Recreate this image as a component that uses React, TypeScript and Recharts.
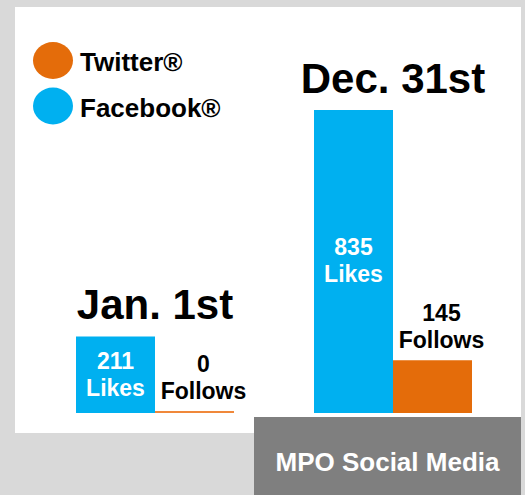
import React from 'react';
import { BarChart, Bar, XAxis, YAxis, LabelList, Legend, Cell } from 'recharts';

const dates = ['Jan. 1st', 'Dec. 31st'];
const facebookLikes = [211, 835];
const twitterFollows = [0, 145];
const seriesNames = { facebook: 'Facebook®', twitter: 'Twitter®' };
const unitLabels = { facebook: 'Likes', twitter: 'Follows' };

const BLUE = '#00b0f0';
const ORANGE = '#e46c0a';
const FONT = '"Liberation Sans", Arial, sans-serif';

const data = dates.map((d, i) => ({ date: d, facebook: facebookLikes[i], twitter: twitterFollows[i] }));

const LikesLabel = (props: any) => {
  const { x, y, width, height, value } = props;
  const cx = Number(x) + Number(width) / 2;
  const cy = Number(y) + Number(height) / 2;
  return (
    <text x={cx} textAnchor="middle" fill="#ffffff" fontFamily={FONT} fontWeight="bold" fontSize={23}>
      <tspan x={cx} y={cy - 6}>{value}</tspan>
      <tspan x={cx} y={cy + 21}>{unitLabels.facebook}</tspan>
    </text>
  );
};

const FollowsLabel = (props: any) => {
  const { x, y, width, value } = props;
  const cx = Number(x) + Number(width) / 2 + 9;
  const base = Number(y) - 12;
  return (
    <text x={cx} textAnchor="middle" fill="#000000" fontFamily={FONT} fontWeight="bold" fontSize={23}>
      <tspan x={cx} y={base - 27}>{value}</tspan>
      <tspan x={cx} y={base}>{unitLabels.twitter}</tspan>
    </text>
  );
};

const DateLabel = (props: any) => {
  const { x, y, width, value } = props;
  const cx = Number(x) + Number(width);
  return (
    <text x={cx} y={Number(y) - 17} textAnchor="middle" fill="#000000" fontFamily={FONT} fontWeight="bold" fontSize={42}>
      {value}
    </text>
  );
};

const LegendContent = (props: any) => {
  const payload = [...(props.payload || [])].reverse();
  return (
    <svg width={240} height={130} style={{ display: 'block', position: 'absolute', left: 0, top: 0 }}>
      {payload.map((p: any, i: number) => (
        <g key={i}>
          <ellipse cx={53} cy={60.5 + i * 45.5} rx={20} ry={18.5} fill={p.color} />
          <text x={80} y={70.5 + i * 46.5} fill="#000000" fontFamily={FONT} fontWeight="bold" fontSize={26}>
            {p.value}
          </text>
        </g>
      ))}
    </svg>
  );
};

export default function App() {
  return (
    <div style={{ position: 'absolute', left: 0, top: 0, width: 525, height: 495, background: '#d9d9d9', overflow: 'hidden', fontFamily: FONT }}>
      <div style={{ position: 'absolute', left: 15, top: 7, width: 506, height: 426, background: '#ffffff' }} />
      <div style={{ position: 'absolute', left: 0, top: 0 }}>
        <BarChart
          width={525}
          height={495}
          data={data}
          margin={{ top: 50, right: 13, bottom: 82, left: 36 }}
          barCategoryGap={40}
          barGap={0}
        >
          <XAxis dataKey="date" hide />
          <YAxis hide domain={[0, 1000]} />
          <Legend
            content={<LegendContent />}
            wrapperStyle={{ left: 0, top: 0, width: 0, height: 0, overflow: 'visible' }}
          />
          <Bar dataKey="facebook" name={seriesNames.facebook} fill={BLUE} isAnimationActive={false}>
            <LabelList dataKey="facebook" content={<LikesLabel />} />
            <LabelList dataKey="date" content={<DateLabel />} />
          </Bar>
          <Bar dataKey="twitter" name={seriesNames.twitter} fill={ORANGE} minPointSize={2} isAnimationActive={false}>
            {data.map((d, i) => (
              <Cell key={i} fill={d.twitter === 0 ? '#f0883a' : ORANGE} />
            ))}
            <LabelList dataKey="twitter" content={<FollowsLabel />} />
          </Bar>
        </BarChart>
      </div>
      <div style={{ position: 'absolute', left: 254, top: 417, width: 267, height: 78, background: '#7f7f7f' }} />
      <div style={{ position: 'absolute', left: 254, top: 423, width: 267, lineHeight: '78px', textAlign: 'center', color: '#ffffff', fontWeight: 'bold', fontSize: 26, fontFamily: FONT, whiteSpace: 'nowrap' }}>
        MPO Social Media
      </div>
    </div>
  );
}
